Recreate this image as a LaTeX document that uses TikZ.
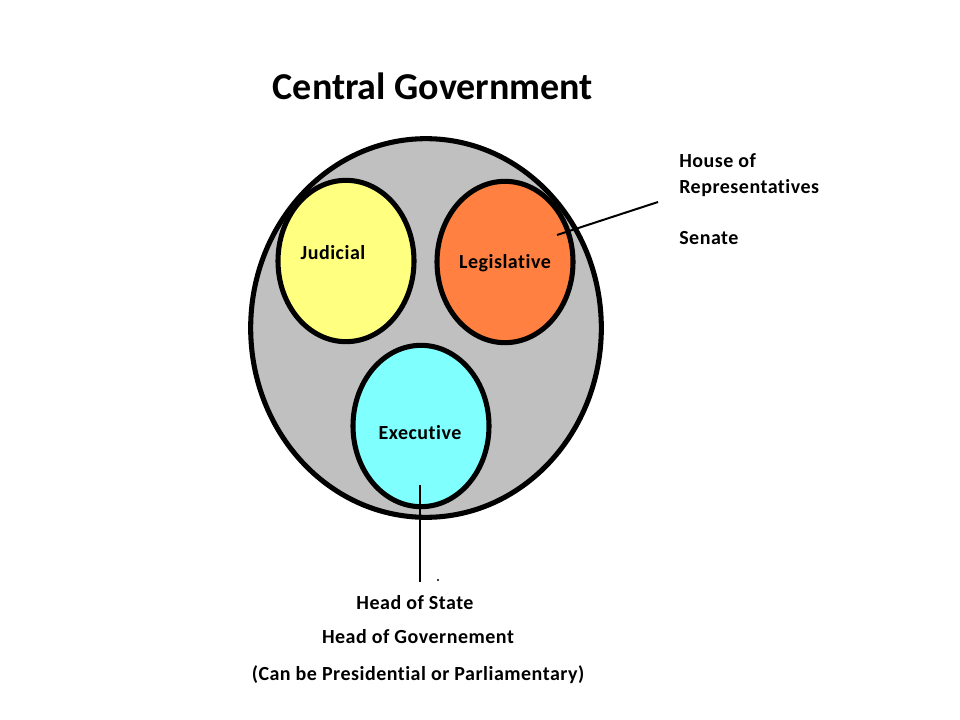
\documentclass[tikz,border=0pt]{standalone}
\usepackage{fontspec}
\setmainfont[Ligatures=NoCommon]{Carlito}
\newfontfamily\lblfont[Ligatures=NoCommon, LetterSpace=2.5]{Carlito}
\usetikzlibrary{shapes.geometric}
\definecolor{govgray}{HTML}{C0C0C0}
\definecolor{judyellow}{HTML}{FFFF80}
\definecolor{legorange}{HTML}{FF8040}
\definecolor{execcyan}{HTML}{80FFFF}
\tikzset{
  branch/.style={ellipse, draw=black, line width=3.8pt, inner sep=0pt,
    minimum width=102pt, minimum height=121pt},
  lbl/.style={font=\lblfont\bfseries\fontsize{15}{17}\selectfont, inner sep=0pt},
  leader/.style={line width=1.5pt}
}
\begin{document}
\begin{tikzpicture}[x=0.75pt, y=-0.75pt]
        \useasboundingbox (0,0) rectangle (960,720);
        \node[font=\bfseries\fontsize{28.5}{31}\selectfont, inner sep=0pt] (title) at (433,86) {Central Government};
        % Elipses
        \node[ellipse, draw=black, fill=govgray, line width=3.8pt, inner sep=0pt,
          minimum width=263pt, minimum height=284pt] (gov) at (426,328) {};
        \node[branch, fill=judyellow] (jud) at (346,261) {};
        \node[branch, fill=legorange] (leg) at (505,262) {};
        \node[branch, fill=execcyan] (exec) at (421,426) {};
        \node[lbl] (judlbl) at (333,253) {Judicial};
        \node[lbl] (leglbl) at (505,263) {Legislative};
        \node[lbl] (execlbl) at (420,433) {Executive};
        % Lineas
        \coordinate (legpt) at (557,235);
        \coordinate (legend) at (658,202);
        \coordinate (execpt) at (420,485);
        \coordinate (execend) at (420,582);
        \draw[leader] (legpt) -- (legend);
        \draw[leader] (execpt) -- (execend);
        \fill (438,580) circle (0.9pt);
        % Textos
        \node[lbl, anchor=west] (house) at (679,161) {House of};
        \node[lbl, anchor=west] (reps) at (679,188) {Representatives};
        \node[lbl, anchor=west] (senate) at (679,238) {Senate};
        \node[lbl] (hos) at (415,603) {Head of State};
        \node[lbl] (hog) at (418,637) {Head of Governement};
        \node[lbl] (note) at (418,675) {(Can be Presidential or Parliamentary)};
    \end{tikzpicture}
\end{document}
